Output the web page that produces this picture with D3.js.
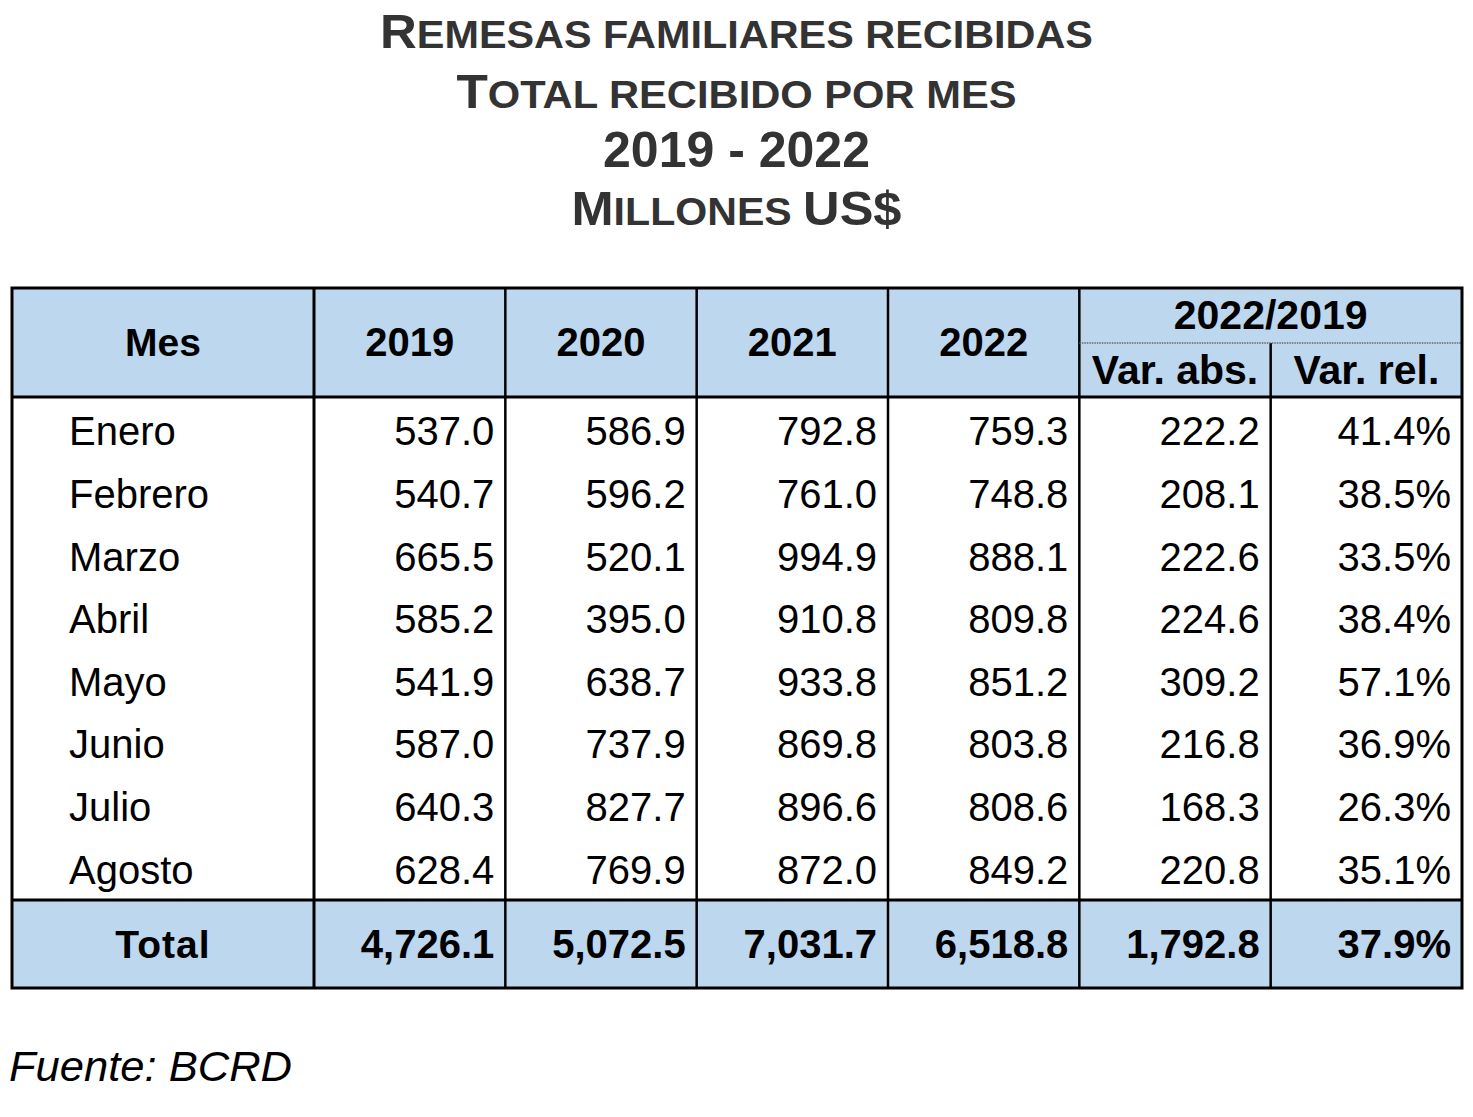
<!DOCTYPE html>
<html>
<head>
<meta charset="utf-8">
<script src="https://cdn.jsdelivr.net/npm/d3@7"></script>
<style>
  body { margin: 0; background: #fff; }
  text { font-family: "Liberation Sans", Arial, sans-serif; }
</style>
</head>
<body>
<svg id="chart"></svg>
<script>
// data
const months = ['Enero', 'Febrero', 'Marzo', 'Abril', 'Mayo', 'Junio', 'Julio', 'Agosto']
const v2019 = [537.0, 540.7, 665.5, 585.2, 541.9, 587.0, 640.3, 628.4]
const v2020 = [586.9, 596.2, 520.1, 395.0, 638.7, 737.9, 827.7, 769.9]
const v2021 = [792.8, 761.0, 994.9, 910.8, 933.8, 869.8, 896.6, 872.0]
const v2022 = [759.3, 748.8, 888.1, 809.8, 851.2, 803.8, 808.6, 849.2]
const varAbs = [222.2, 208.1, 222.6, 224.6, 309.2, 216.8, 168.3, 220.8]
const varRel = [41.4, 38.5, 33.5, 38.4, 57.1, 36.9, 26.3, 35.1]
const totals = [4726.1, 5072.5, 7031.7, 6518.8, 1792.8, 37.9]
const yearHeaders = ['2019', '2020', '2021', '2022']
const varHeaders = ['Var. abs.', 'Var. rel.']

let width = 1473
let height = 1117

let svg = d3.select('#chart').attr('width', width).attr('height', height)

let blue = '#bdd7ee'
let tableTop = 288, subTop = 343, headBottom = 397, dataBottom = 900, tableBottom = 988
let tableLeft = 12

// column boundaries: index 0..7
let colX = d3.scaleLinear().domain([1, 7]).range([314, 1462])
let colEdge = (i) => i === 0 ? tableLeft : colX(i)

let rowScale = d3.scaleBand()
                 .domain(months)
                 .range([399, dataBottom])

let fmt = d3.format(',.1f')

// title (small caps, narrow)
let titleLines = [
  { y: 48, parts: [['R', 48], ['EMESAS FAMILIARES RECIBIDAS', 39]], len: 713 },
  { y: 108, parts: [['T', 48], ['OTAL RECIBIDO POR MES', 39]], len: 560 },
  { y: 167, parts: [['2019 - 2022', 50]], len: 267 },
  { y: 225, parts: [['M', 48], ['ILLONES ', 39], ['US$', 48]], len: 330 }
]
titleLines.forEach(line => {
  let t = svg.append('text')
     .attr('x', 736.5)
     .attr('y', line.y)
     .attr('text-anchor', 'middle')
     .attr('fill', '#333333')
     .attr('font-weight', 'bold')
     .style('font-family', '"Liberation Sans Narrow", "Liberation Sans", Arial, sans-serif')
     .attr('textLength', line.len)
     .attr('lengthAdjust', 'spacingAndGlyphs')
  line.parts.forEach(p => {
    t.append('tspan').attr('font-size', p[1]).text(p[0])
  })
})

// backgrounds
svg.append('rect')
   .attr('x', tableLeft).attr('y', tableTop)
   .attr('width', colEdge(7) - tableLeft).attr('height', headBottom - tableTop)
   .attr('fill', blue)
svg.append('rect')
   .attr('x', tableLeft).attr('y', dataBottom)
   .attr('width', colEdge(7) - tableLeft).attr('height', tableBottom - dataBottom)
   .attr('fill', blue)

// header text
svg.append('text')
   .attr('x', (colEdge(0) + colEdge(1)) / 2).attr('y', 356)
   .attr('text-anchor', 'middle').attr('font-size', 39).attr('font-weight', 'bold')
   .attr('fill', '#000').text('Mes')

svg.selectAll('.yearHead')
   .data(yearHeaders)
   .enter()
   .append('text')
   .attr('class', 'yearHead')
   .attr('x', (d, i) => (colEdge(i + 1) + colEdge(i + 2)) / 2)
   .attr('y', 356)
   .attr('text-anchor', 'middle').attr('font-size', 40).attr('font-weight', 'bold')
   .text(d => d)

svg.append('text')
   .attr('x', colEdge(6)).attr('y', 329)
   .attr('text-anchor', 'middle').attr('font-size', 41).attr('font-weight', 'bold')
   .text('2022/2019')

svg.selectAll('.varHead')
   .data(varHeaders)
   .enter()
   .append('text')
   .attr('class', 'varHead')
   .attr('x', (d, i) => (colEdge(i + 5) + colEdge(i + 6)) / 2)
   .attr('y', 384)
   .attr('text-anchor', 'middle').attr('font-size', 41).attr('font-weight', 'bold')
   .text(d => d)

// data rows
let rows = months.map((m, i) => ({
  month: m,
  cells: [fmt(v2019[i]), fmt(v2020[i]), fmt(v2021[i]), fmt(v2022[i]), fmt(varAbs[i]), fmt(varRel[i]) + '%']
}))

let rowG = svg.selectAll('.row')
              .data(rows)
              .enter()
              .append('g')
              .attr('class', 'row')
              .attr('transform', d => 'translate(0,' + (rowScale(d.month) + rowScale.bandwidth() / 2 + 15) + ')')

rowG.append('text')
    .attr('x', 69)
    .attr('font-size', 40)
    .text(d => d.month)

rowG.selectAll('.cell')
    .data(d => d.cells)
    .enter()
    .append('text')
    .attr('class', 'cell')
    .attr('x', (d, i) => colEdge(i + 2) - 11)
    .attr('text-anchor', 'end')
    .attr('font-size', 40)
    .text(d => d)

// total row
let totalY = 958
svg.append('text')
   .attr('x', (colEdge(0) + colEdge(1)) / 2).attr('y', totalY)
   .attr('text-anchor', 'middle').attr('font-size', 39).attr('font-weight', 'bold')
   .attr('letter-spacing', 1)
   .text('Total')
svg.selectAll('.totalCell')
   .data(totals)
   .enter()
   .append('text')
   .attr('class', 'totalCell')
   .attr('x', (d, i) => colEdge(i + 2) - 11)
   .attr('y', totalY)
   .attr('text-anchor', 'end').attr('font-size', 40).attr('font-weight', 'bold')
   .text((d, i) => i === 5 ? fmt(d) + '%' : fmt(d))

// grid lines
let lines = svg.append('g').attr('stroke', '#000')
// vertical lines between columns
d3.range(1, 7).forEach(i => {
  let y1 = (i === 6) ? subTop : tableTop
  lines.append('line')
       .attr('x1', colEdge(i)).attr('x2', colEdge(i))
       .attr('y1', y1).attr('y2', tableBottom)
       .attr('stroke-width', i === 1 ? 3 : 2.5)
})
// dotted sub header line
svg.append('line')
   .attr('x1', colEdge(5)).attr('x2', colEdge(7))
   .attr('y1', subTop).attr('y2', subTop)
   .attr('stroke', '#666').attr('stroke-width', 1.5)
   .attr('stroke-dasharray', '1.5,1')
// horizontal lines
;[headBottom, dataBottom].forEach(y => {
  lines.append('line')
       .attr('x1', tableLeft).attr('x2', colEdge(7))
       .attr('y1', y).attr('y2', y)
       .attr('stroke-width', 3)
})
// outer border
svg.append('rect')
   .attr('x', tableLeft).attr('y', tableTop)
   .attr('width', colEdge(7) - tableLeft).attr('height', tableBottom - tableTop)
   .attr('fill', 'none').attr('stroke', '#000').attr('stroke-width', 3)

// source
svg.append('text')
   .attr('x', 9).attr('y', 1081)
   .attr('font-size', 42).attr('font-style', 'italic')
   .attr('textLength', 283)
   .attr('lengthAdjust', 'spacingAndGlyphs')
   .text('Fuente: BCRD')
</script>
</body>
</html>
